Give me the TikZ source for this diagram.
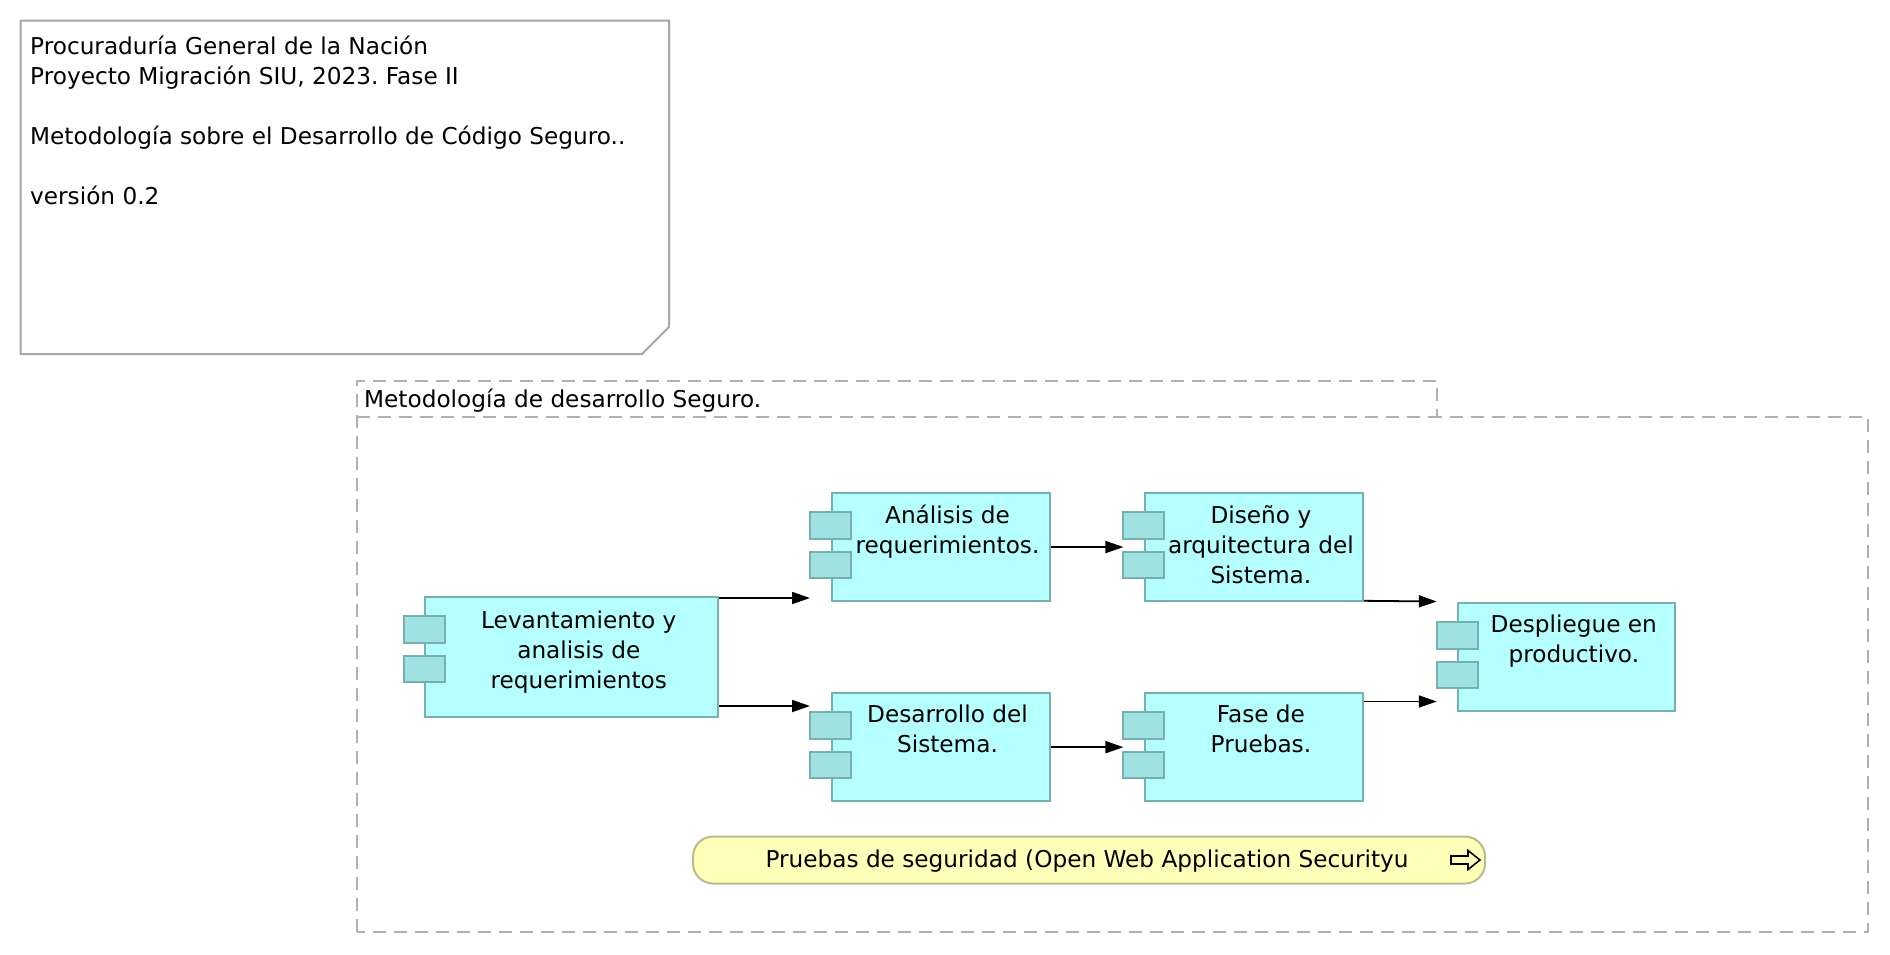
\documentclass[tikz,border=0pt]{standalone}
\usepackage{fontspec}
\setmainfont{DejaVu Sans}
\usetikzlibrary{arrows.meta,calc}
\frenchspacing

\definecolor{compfill}{RGB}{181,255,255}
\definecolor{compline}{RGB}{120,176,176}
\definecolor{tabfill}{RGB}{160,226,226}
\definecolor{framegray}{RGB}{176,176,176}
\definecolor{notegray}{RGB}{166,166,166}
\definecolor{eventfill}{RGB}{255,255,186}
\definecolor{eventline}{RGB}{186,186,140}

\tikzstyle{archi}=[%
	comp/.style={%
		draw=compline, fill=compfill, line width=2pt,
		anchor=north west, inner sep=0pt,
		minimum width=218pt, minimum height=108.5pt
	},
	comptab/.style={draw=compline, fill=tabfill, line width=2pt},
	comptxt/.style={%
		anchor=north, align=center, inner sep=0pt,
		execute at begin node=\strut
	},
	flow/.style={-{Triangle[length=18pt,width=12pt]}, line width=1.8pt},
	pkgline/.style={draw=framegray, line width=2pt, dash pattern=on 13pt off 8pt},
	noteline/.style={draw=notegray, fill=white, line width=2pt},
	event/.style={%
		draw=eventline, fill=eventfill, line width=2pt, rounded corners=20pt,
		minimum width=792pt, minimum height=47pt, inner sep=0pt
	}
]

\begin{document}
\begin{tikzpicture}[
	x=1pt, y=-1pt,
	archi,
	font=\fontsize{23.2}{30}\selectfont
]
	\useasboundingbox (0,0) rectangle (1890,954);

	% note
	\draw[noteline] (20.5,20.5) -- (669,20.5) -- (669,327) -- (642,354) -- (20.5,354) -- cycle;
	\node[comptxt, anchor=north west, align=left] (note) at (30,36)
		{Procuraduría General de la Nación\\
		 Proyecto Migración SIU, 2023. Fase II\\[30pt]
		 Metodología sobre el Desarrollo de Código Seguro..\\[30pt]
		 versión 0.2};

	% grouping
	\draw[pkgline] (357,932) -- (357,381) -- (1437,381) -- (1437,417) -- (1868,417) -- (1868,932) -- cycle;
	\draw[pkgline] (357,417) -- (1437,417);
	\node[anchor=base west, inner sep=0pt] (pkg) at (364,407) {Metodología de desarrollo Seguro.};

	% components
	\node[comp, minimum width=293pt, minimum height=120.5pt] (lev) at (424.3,595.5) {};
	\node[comp] (ana) at (830.5,491.8) {};
	\node[comp] (dis) at (1143.9,491.8) {};
	\node[comp] (des) at (830.5,691.9) {};
	\node[comp] (fas) at (1143.9,691.9) {};
	\node[comp, minimum width=217pt] (dep) at (1457.3,601.5) {};

	\foreach \n in {lev,ana,dis,des,fas,dep} {
		\draw[comptab] ($(\n.north west)+(-20.5,20.5)$) rectangle ++(41,26.5);
		\draw[comptab] ($(\n.north west)+(-20.5,60)$) rectangle ++(41,26.5);
		\coordinate (\n-in) at ($(\n.west)+(-20.5,0)$);
	}

	\node[comptxt] (lev-t) at ($(lev.north)+(7,15)$) {Levantamiento y\\analisis de\\requerimientos};
	\node[comptxt] (ana-t) at ($(ana.north)+(7,13)$) {Análisis de\\requerimientos.};
	\node[comptxt] (dis-t) at ($(dis.north)+(7,13)$) {Diseño y\\arquitectura del\\Sistema.};
	\node[comptxt] (des-t) at ($(des.north)+(7,13)$) {Desarrollo del\\Sistema.};
	\node[comptxt] (fas-t) at ($(fas.north)+(7,13)$) {Fase de\\Pruebas.};
	\node[comptxt] (dep-t) at ($(dep.north)+(7,13)$) {Despliegue en\\productivo.};

	% flows
	\coordinate (lev-o1) at ($(lev.north east)+(0,2.5)$);
	\coordinate (lev-o2) at ($(lev.south east)+(0,-12)$);
	\coordinate (dis-o) at ($(dis.south east)+(0,-1.5)$);
	\coordinate (fas-o) at ($(fas.north east)+(0,9.6)$);
	\draw[flow] (lev-o1) -- (ana-in |- lev-o1);
	\draw[flow] (lev-o2) -- (des-in |- lev-o2);
	\draw[flow] (ana.east) -- (dis-in |- ana.east);
	\draw[flow] (des.east) -- (fas-in |- des.east);
	\draw[flow] (dis-o) -- (dep-in |- dep.north);
	\draw[flow] (fas-o) -- (dep-in |- fas-o);

	% event
	\node[event] (owasp) at (1089,860) {};
	\node[inner sep=0pt] (owasp-t) at (1087,861) {Pruebas de seguridad (Open Web Application Securityu};
	\draw[line width=1.6pt] ($(owasp.east)+(-35,-4)$) -- ++(17,0) -- ++(0,-5.5) -- ++(12,9.5)
		-- ++(-12,9.5) -- ++(0,-5.5) -- ++(-17,0) -- cycle;
\end{tikzpicture}
\end{document}
